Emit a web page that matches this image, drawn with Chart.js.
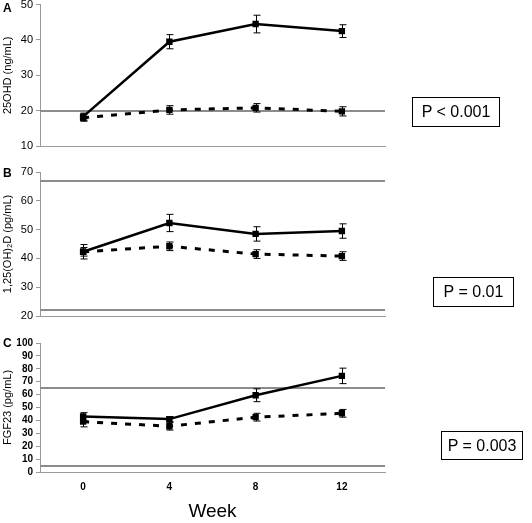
<!DOCTYPE html>
<html>
<head>
<meta charset="utf-8">
<script src="https://cdn.jsdelivr.net/npm/chart.js@4/dist/chart.umd.min.js"></script>
<style>
    body { margin: 0; background: #fff; font-family: "Liberation Sans", Arial, sans-serif; }
    #wrap { position: relative; width: 532px; height: 523px; overflow: hidden; }
    canvas { position: absolute; left: 0; }
    .harf { position: absolute; left: 3px; font-weight: bold; font-size: 12px; }
    .pkutu { position: absolute; border: 1px solid #000; box-sizing: border-box; font-size: 16px;
             display: flex; align-items: center; justify-content: center; }
</style>
</head>
<body>
<div id="wrap">
    <canvas id="grafikA" width="532" height="165" style="top:-5px"></canvas>
    <canvas id="grafikB" width="532" height="170" style="top:160px"></canvas>
    <canvas id="grafikC" width="532" height="193" style="top:330px"></canvas>
    <div class="harf" style="top:1px">A</div>
    <div class="harf" style="top:166px">B</div>
    <div class="harf" style="top:336px">C</div>
    <div class="pkutu" style="left:412px;top:97px;width:88px;height:30px">P &lt; 0.001</div>
    <div class="pkutu" style="left:433px;top:277px;width:81px;height:30px">P = 0.01</div>
    <div class="pkutu" style="left:441px;top:431px;width:82px;height:29px">P = 0.003</div>
</div>
<script>
// Veriler
const weeks = ['0', '4', '8', '12'];

const ohdTreated = [18.3, 39.5, 44.5, 42.5];
const ohdTreatedErr = [1.0, 2.0, 2.5, 1.8];
const ohdPlacebo = [18.0, 20.2, 20.8, 19.8];
const ohdPlaceboErr = [1.0, 1.2, 1.2, 1.3];
const ohdRefs = [20];

const calTreated = [42.3, 52.3, 48.5, 49.5];
const calTreatedErr = [2.5, 3.0, 2.5, 2.5];
const calPlacebo = [42.3, 44.2, 41.5, 40.8];
const calPlaceboErr = [1.5, 1.5, 1.5, 1.5];
const calRefs = [67, 22];

const fgfTreated = [43.0, 41.0, 59.5, 74.5];
const fgfTreatedErr = [3.0, 2.0, 5.0, 6.0];
const fgfPlacebo = [39.0, 35.5, 42.5, 45.5];
const fgfPlaceboErr = [4.0, 3.0, 3.0, 3.0];
const fgfRefs = [65, 5];

const FONT = '"Liberation Sans", Arial, sans-serif';

/**
 * Referans çizgileri (gri yatay çizgiler)
 */
const refLinePlugin = {
    id: 'refLines',
    beforeDatasetsDraw(chart, args, opts) {
        const y = chart.scales.y;
        const area = chart.chartArea;
        const ctx = chart.ctx;
        ctx.save();
        ctx.strokeStyle = '#8c8c8c';
        ctx.lineWidth = 2;
        (opts.values || []).forEach(v => {
            const py = Math.round(y.getPixelForValue(v));
            ctx.beginPath();
            ctx.moveTo(area.left, py);
            ctx.lineTo(area.right, py);
            ctx.stroke();
        });
        ctx.restore();
    }
};

/**
 * Hata çubukları
 */
const errorBarPlugin = {
    id: 'errorBars',
    afterDatasetsDraw(chart) {
        const ctx = chart.ctx;
        const y = chart.scales.y;
        ctx.save();
        ctx.strokeStyle = '#000';
        ctx.lineWidth = 1;
        chart.data.datasets.forEach((ds, i) => {
            const meta = chart.getDatasetMeta(i);
            meta.data.forEach((pt, j) => {
                const e = ds.errors[j];
                const top = y.getPixelForValue(ds.data[j] + e);
                const bot = y.getPixelForValue(ds.data[j] - e);
                const x = Math.round(pt.x) + 0.5;
                ctx.beginPath();
                ctx.moveTo(x, top); ctx.lineTo(x, bot);
                ctx.moveTo(x - 3, top); ctx.lineTo(x + 4, top);
                ctx.moveTo(x - 3, bot); ctx.lineTo(x + 4, bot);
                ctx.stroke();
            });
        });
        ctx.restore();
    }
};

function seri(data, errors, dashed) {
    return {
        data: data,
        errors: errors,
        borderColor: '#000',
        backgroundColor: '#000',
        borderWidth: dashed ? 3 : 2.5,
        borderDash: dashed ? [6, 8] : [],
        pointStyle: 'rect',
        pointRadius: 4.5,
        pointBorderWidth: 0,
        tension: 0
    };
}

function createPanel(id, cfg) {
    const ctx = document.getElementById(id);
    return new Chart(ctx, {
        type: 'line',
        data: {
            labels: weeks,
            datasets: [
                seri(cfg.treated, cfg.treatedErr, false),
                seri(cfg.placebo, cfg.placeboErr, true)
            ]
        },
        plugins: [refLinePlugin, errorBarPlugin],
        options: {
            responsive: false,
            animation: false,
            layout: { padding: { top: cfg.padTop, right: 147, left: 0, bottom: 0 } },
            plugins: {
                legend: { display: false },
                tooltip: { enabled: false },
                refLines: { values: cfg.refs }
            },
            scales: {
                x: {
                    offset: true,
                    grid: { display: false, drawTicks: false },
                    border: { display: true, color: '#999', width: 1 },
                    ticks: {
                        display: cfg.showX,
                        color: '#000',
                        padding: 9,
                        font: { family: FONT, size: 10, weight: 'bold' }
                    },
                    title: {
                        display: cfg.showX,
                        text: 'Week',
                        color: '#000',
                        padding: { top: 12, bottom: 0 },
                        font: { family: FONT, size: 19 }
                    },
                    afterFit: scale => { scale.height = cfg.xHeight; }
                },
                y: {
                    min: cfg.min,
                    max: cfg.max,
                    grid: { display: true, drawOnChartArea: false, drawTicks: true, tickLength: 4, color: '#999' },
                    border: { display: true, color: '#999', width: 1 },
                    ticks: {
                        stepSize: cfg.step,
                        autoSkip: false,
                        color: '#000',
                        padding: 3,
                        font: { family: FONT, size: cfg.tickSize, weight: cfg.tickWeight }
                    },
                    title: {
                        display: true,
                        text: cfg.title,
                        color: '#000',
                        padding: { top: 1, bottom: 0 },
                        font: { family: FONT, size: 11 }
                    },
                    afterFit: scale => { scale.width = 40; }
                }
            }
        }
    });
}

document.addEventListener('DOMContentLoaded', function() {
    createPanel('grafikA', {
        treated: ohdTreated, treatedErr: ohdTreatedErr,
        placebo: ohdPlacebo, placeboErr: ohdPlaceboErr,
        refs: ohdRefs, min: 10, max: 50, step: 10,
        title: '25OHD (ng/mL)', padTop: 0, xHeight: 14, showX: false,
        tickSize: 11, tickWeight: 'normal'
    });
    createPanel('grafikB', {
        treated: calTreated, treatedErr: calTreatedErr,
        placebo: calPlacebo, placeboErr: calPlaceboErr,
        refs: calRefs, min: 20, max: 70, step: 10,
        title: '1,25(OH)₂D (pg/mL)', padTop: 12, xHeight: 14, showX: false,
        tickSize: 11, tickWeight: 'normal'
    });
    createPanel('grafikC', {
        treated: fgfTreated, treatedErr: fgfTreatedErr,
        placebo: fgfPlacebo, placeboErr: fgfPlaceboErr,
        refs: fgfRefs, min: 0, max: 100, step: 10,
        title: 'FGF23 (pg/mL)', padTop: 13, xHeight: 51, showX: true,
        tickSize: 10, tickWeight: 'bold'
    });
});
</script>
</body>
</html>
